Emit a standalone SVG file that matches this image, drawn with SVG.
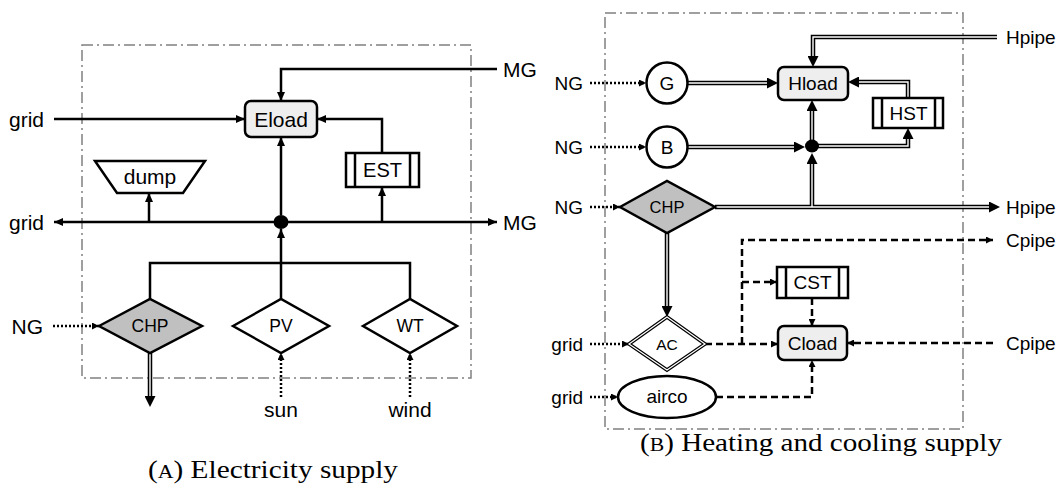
<svg xmlns="http://www.w3.org/2000/svg" width="1061" height="493" viewBox="0 0 1061 493">
<style>
text{font-family:"Liberation Sans",Arial,sans-serif;fill:#000}
.t21{font-size:21px}
.t19{font-size:19px}
.t17{font-size:17.5px}
.ln{stroke:#000;stroke-width:2.5;fill:none}
.dt{stroke:#000;stroke-width:2.5;fill:none;stroke-dasharray:2 2}
.ds{stroke:#000;stroke-width:2.5;fill:none;stroke-dasharray:7 4}
.dblo{stroke:#000;stroke-width:4.5;fill:none}
.dbli{stroke:#fff;stroke-width:1.4;fill:none}
.frame{fill:none;stroke:#808080;stroke-width:1.5;stroke-dasharray:11 4 2 4}
.nd{fill:#fff;stroke:#000;stroke-width:2.5}
.ld{fill:#eeeeee;stroke:#000;stroke-width:2.5}
.gr{fill:#c0c0c0;stroke:#000;stroke-width:2.5}
.cap{font-family:"Liberation Serif","Times New Roman",serif;font-size:25.5px}
</style>
<defs>
<marker id="a" markerUnits="userSpaceOnUse" viewBox="0 0 9 8" markerWidth="9" markerHeight="8" refX="9" refY="4" orient="auto"><path d="M0,0 L9,4 L0,8 z" fill="#000"/></marker>
<marker id="s" markerUnits="userSpaceOnUse" viewBox="0 0 7 7" markerWidth="7" markerHeight="7" refX="7" refY="3.5" orient="auto"><path d="M0,0 L7,3.5 L0,7 z" fill="#000"/></marker>
<marker id="d" markerUnits="userSpaceOnUse" viewBox="0 0 11 11" markerWidth="11" markerHeight="11" refX="0" refY="5.5" orient="auto"><path d="M0,0 L11,5.5 L0,11 z" fill="#000"/></marker>
</defs>

<!-- frames -->
<rect class="frame" x="82" y="45" width="389" height="333"/>
<rect class="frame" x="605" y="13" width="358" height="416"/>

<g id="connectors">
  <!-- Panel A -->
  <path class="ln" d="M54,119 H245" marker-end="url(#a)"/>
  <path class="ln" d="M497,69 H281 V101" marker-end="url(#a)"/>
  <path class="ln" d="M382,153 V119 H317" marker-end="url(#a)"/>
  <path class="ln" d="M281,222 H54" marker-end="url(#a)"/>
  <path class="ln" d="M281,222 H497" marker-end="url(#a)"/>
  <path class="ln" d="M281,215 V137" marker-end="url(#a)"/>
  <path class="ln" d="M149,222 V193" marker-end="url(#a)"/>
  <path class="ln" d="M382,222 V187" marker-end="url(#a)"/>
  <path class="ln" d="M150,299 V263 H410 V299"/>
  <path class="ln" d="M281,299 V229" marker-end="url(#a)"/>
  <path class="dt" d="M53,326 H99" marker-end="url(#s)"/>
  <path class="dt" d="M281,397 V353" marker-end="url(#s)"/>
  <path class="dt" d="M410,397 V353" marker-end="url(#s)"/>
  <path class="dblo" d="M150,353 V396" marker-end="url(#d)"/>
  <path class="dbli" d="M150,353 V396"/>
  <ellipse cx="281" cy="222" rx="7.5" ry="7" fill="#000"/>

  <!-- Panel B: double lines -->
  <path class="dblo" d="M688,83 H767" marker-end="url(#d)"/>
  <path class="dbli" d="M688,83 H767"/>
  <path class="dblo" d="M688,147 H794" marker-end="url(#d)"/>
  <path class="dbli" d="M688,147 H794"/>
  <path class="dblo" d="M812,146 V111" marker-end="url(#d)"/>
  <path class="dbli" d="M812,146 V111"/>
  <path class="dblo" d="M812,146 H908 V139" marker-end="url(#d)"/>
  <path class="dbli" d="M812,146 H908 V139"/>
  <path class="dblo" d="M908,98 V82 H859" marker-end="url(#d)"/>
  <path class="dbli" d="M908,98 V82 H859"/>
  <path class="dblo" d="M997,37 H813 V56" marker-end="url(#d)"/>
  <path class="dbli" d="M997,37 H813 V56"/>
  <path class="dblo" d="M812,207 V164" marker-end="url(#d)"/>
  <path class="dblo" d="M715,207 H989" marker-end="url(#d)"/>
  <path class="dbli" d="M812,207 V164"/>
  <path class="dbli" d="M715,207 H989"/>
  <path class="dblo" d="M667,233 V306" marker-end="url(#d)"/>
  <path class="dbli" d="M667,233 V306"/>
  <ellipse cx="812" cy="146" rx="7" ry="6.5" fill="#000"/>

  <!-- Panel B: dotted -->
  <path class="dt" d="M590,83 H646" marker-end="url(#s)"/>
  <path class="dt" d="M590,147 H646" marker-end="url(#s)"/>
  <path class="dt" d="M590,207 H620" marker-end="url(#s)"/>
  <path class="dt" d="M590,344 H629" marker-end="url(#s)"/>
  <path class="dt" d="M590,397 H618" marker-end="url(#s)"/>

  <!-- Panel B: dashed -->
  <path class="ds" d="M705,344 H778" marker-end="url(#s)"/>
  <path class="ds" d="M742,344 V240 H993" marker-end="url(#s)"/>
  <path class="ds" d="M742,282 H777" marker-end="url(#s)"/>
  <path class="ds" d="M812,298 V326" marker-end="url(#s)"/>
  <path class="ds" d="M993,343 H847" marker-end="url(#s)"/>
  <path class="ds" d="M716,397 H812 V360" marker-end="url(#s)"/>
</g>

<!-- Panel A nodes -->
<g id="eload"><rect class="ld" x="245" y="101" width="72" height="36" rx="6"/><text class="t21" x="281" y="126.5" text-anchor="middle">Eload</text></g>
<g id="est"><rect class="nd" x="346" y="153" width="73" height="34"/><line class="ln" x1="355" y1="153" x2="355" y2="187"/><line class="ln" x1="410" y1="153" x2="410" y2="187"/><text class="t19" x="382.5" y="177" text-anchor="middle" style="font-size:20px">EST</text></g>
<g id="dump"><polygon class="nd" points="95,161 205,161 183,193 117,193"/><text class="t21" x="150" y="184" text-anchor="middle">dump</text></g>
<g id="chpA"><polygon class="gr" points="99,326 150,299 202,326 150,353"/><text class="t17" x="150" y="332.3" text-anchor="middle">CHP</text></g>
<g id="pv"><polygon class="nd" points="233,326 281,299 329,326 281,353"/><text class="t17" x="281" y="332.3" text-anchor="middle">PV</text></g>
<g id="wt"><polygon class="nd" points="363,326 410,299 457,326 410,353"/><text class="t17" x="410" y="332.3" text-anchor="middle">WT</text></g>
<g id="labelsA">
  <text class="t21" x="44" y="126.5" text-anchor="end">grid</text>
  <text class="t21" x="44" y="229.5" text-anchor="end">grid</text>
  <text class="t21" x="43" y="333.5" text-anchor="end">NG</text>
  <text class="t21" x="503" y="76.5">MG</text>
  <text class="t21" x="503" y="229.5">MG</text>
  <text class="t21" x="281" y="417" text-anchor="middle">sun</text>
  <text class="t21" x="410" y="417" text-anchor="middle">wind</text>
</g>

<!-- Panel B nodes -->
<g id="g"><circle class="nd" cx="667" cy="83" r="20.5"/><text class="t19" x="667" y="89.8" text-anchor="middle">G</text></g>
<g id="b"><circle class="nd" cx="667" cy="147" r="20.5"/><text class="t19" x="667" y="153.8" text-anchor="middle">B</text></g>
<g id="chpB"><polygon class="gr" points="620,207 667,181 715,207 667,233"/><text x="667" y="213" text-anchor="middle" style="font-size:16.5px">CHP</text></g>
<g id="ac"><polygon points="629,344 667,317 705,344 667,370" fill="#fff" stroke="#000" stroke-width="3.6"/><polygon points="629,344 667,317 705,344 667,370" fill="none" stroke="#fff" stroke-width="1.2"/><text x="667" y="349.5" text-anchor="middle" style="font-size:15.5px">AC</text></g>
<g id="airco"><ellipse class="nd" cx="667" cy="397" rx="49" ry="21"/><text class="t19" x="667" y="403" text-anchor="middle">airco</text></g>
<g id="hload"><rect class="ld" x="778" y="67" width="70" height="33" rx="6"/><text class="t19" x="813" y="90.3" text-anchor="middle">Hload</text></g>
<g id="hst"><rect class="nd" x="873" y="98" width="70" height="30"/><line class="ln" x1="882" y1="98" x2="882" y2="128"/><line class="ln" x1="935" y1="98" x2="935" y2="128"/><text class="t19" x="908.5" y="119.8" text-anchor="middle">HST</text></g>
<g id="cload"><rect class="ld" x="778" y="326" width="69" height="34" rx="6"/><text class="t19" x="812.5" y="349.8" text-anchor="middle">Cload</text></g>
<g id="cst"><rect class="nd" x="777" y="267" width="71" height="31"/><line class="ln" x1="786" y1="267" x2="786" y2="298"/><line class="ln" x1="839" y1="267" x2="839" y2="298"/><text class="t19" x="812.5" y="289.3" text-anchor="middle">CST</text></g>
<g id="labelsB">
  <text class="t19" x="583" y="89.8" text-anchor="end">NG</text>
  <text class="t19" x="583" y="153.8" text-anchor="end">NG</text>
  <text class="t19" x="583" y="213.8" text-anchor="end">NG</text>
  <text class="t19" x="583" y="350.8" text-anchor="end">grid</text>
  <text class="t19" x="583" y="403.8" text-anchor="end">grid</text>
  <text class="t19" x="1006" y="43.8">Hpipe</text>
  <text class="t19" x="1006" y="213.8">Hpipe</text>
  <text class="t19" x="1006" y="246.8">Cpipe</text>
  <text class="t19" x="1006" y="349.8">Cpipe</text>
</g>

<!-- captions -->
<text class="cap" x="148" y="478" textLength="250" lengthAdjust="spacingAndGlyphs">(<tspan style="font-size:19px">A</tspan>) Electricity supply</text>
<text class="cap" x="640" y="451" textLength="362" lengthAdjust="spacingAndGlyphs">(<tspan style="font-size:19px">B</tspan>) Heating and cooling supply</text>
</svg>
